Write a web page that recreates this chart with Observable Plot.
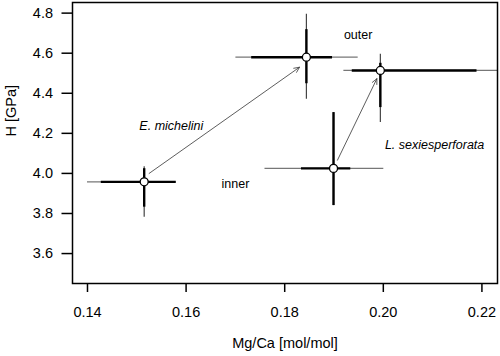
<!DOCTYPE html>
<html>
<head>
<meta charset="utf-8">
<script src="https://cdn.jsdelivr.net/npm/d3@7"></script>
<script src="https://cdn.jsdelivr.net/npm/@observablehq/plot@0.6"></script>
<style>
  html, body { margin: 0; padding: 0; background: #fff; }
  #chart svg { display: block; }
</style>
</head>
<body>
<div id="chart"></div>
<script>
// ---- data ----
const pointNames = ["E. michelini inner", "E. michelini outer", "L. sexiesperforata inner", "L. sexiesperforata outer"];
const mgca = [0.1515, 0.1844, 0.1899, 0.1994];          // Mg/Ca [mol/mol]
const hGPa = [3.958, 4.580, 4.025, 4.514];              // H [GPa]
// thick bars (inner spread)
const mgcaLo = [0.1427, 0.1732, 0.1833, 0.1936];
const mgcaHi = [0.1579, 0.1896, 0.1933, 0.2189];
const hLo    = [3.834, 4.450, 3.842, 4.331];
const hHi    = [4.026, 4.720, 4.306, 4.552];
// thin bars (full range)
const mgcaMin = [0.1399, 0.1700, 0.1759, 0.1919];
const mgcaMax = [0.1579, 0.1948, 0.2000, 0.2260];
const hMin    = [3.784, 4.373, 3.842, 4.257];
const hMax    = [4.036, 4.797, 4.306, 4.597];
// arrows inner -> outer
const arrowX1 = [0.1525, 0.1907];
const arrowY1 = [4.000, 4.066];
const arrowX2 = [0.1830, 0.1987];
const arrowY2 = [4.530, 4.473];
// annotations
const labelText   = ["outer", "E. michelini", "inner", "L. sexiesperforata"];
const labelX      = [0.1949, 0.1570, 0.1700, 0.2104];
const labelY      = [4.689, 4.236, 3.947, 4.141];
const labelItalic = [false, true, false, true];
// axes
const xTicks = [0.14, 0.16, 0.18, 0.20, 0.22];
const yTicks = [3.6, 3.8, 4.0, 4.2, 4.4, 4.6, 4.8];
const xTitle = "Mg/Ca [mol/mol]";
const yTitle = "H [GPa]";

const idx = d3.range(mgca.length);
const aidx = d3.range(arrowX1.length);
const lidx = d3.range(labelText.length);
const font = "Liberation Sans, Arial, Helvetica, sans-serif";

const chart = Plot.plot({
  width: 500,
  height: 356,
  marginLeft: 72,
  marginRight: 3,
  marginTop: 2,
  marginBottom: 73,
  style: { fontFamily: font, background: "#fff", color: "#000" },
  x: { domain: [0.13696, 0.22316] },
  y: { domain: [3.4506, 4.853] },
  marks: [
    // thin range bars
    Plot.link(idx, { x1: i => mgcaMin[i], x2: i => mgcaMax[i], y1: i => hGPa[i], y2: i => hGPa[i], stroke: "#777", strokeWidth: 1.2, clip: true }),
    Plot.link(idx, { x1: i => mgca[i], x2: i => mgca[i], y1: i => hMin[i], y2: i => hMax[i], stroke: "#444", strokeWidth: 1.2, clip: true }),
    // thick bars
    Plot.link(idx, { x1: i => mgcaLo[i], x2: i => mgcaHi[i], y1: i => hGPa[i], y2: i => hGPa[i], stroke: "#000", strokeWidth: 2.4, clip: true }),
    Plot.link(idx, { x1: i => mgca[i], x2: i => mgca[i], y1: i => hLo[i], y2: i => hHi[i], stroke: "#000", strokeWidth: 2.4, clip: true }),
    // arrows
    Plot.arrow(aidx, { x1: i => arrowX1[i], y1: i => arrowY1[i], x2: i => arrowX2[i], y2: i => arrowY2[i], stroke: "#333", strokeWidth: 0.8, headLength: 11, headAngle: 50 }),
    // points
    Plot.dot(idx, { x: i => mgca[i], y: i => hGPa[i], r: 4, fill: "#fff", stroke: "#000", strokeWidth: 1.3 }),
    // annotations
    Plot.text(lidx.filter(i => !labelItalic[i]), { x: i => labelX[i], y: i => labelY[i], text: i => labelText[i], fontSize: 12.5, fill: "#000" }),
    Plot.text(lidx.filter(i => labelItalic[i]), { x: i => labelX[i], y: i => labelY[i], text: i => labelText[i], fontSize: 12.5, fontStyle: "italic", fill: "#000" }),
    // frame
    Plot.frame({ stroke: "#000", strokeWidth: 1.5 }),
    // axes
    Plot.axisX({ ticks: xTicks, tickFormat: d3.format(".2f"), tickSize: 9, tickPadding: 14, fontSize: 14.5, strokeWidth: 1.5, label: null }),
    Plot.axisY({ ticks: yTicks, tickFormat: d3.format(".1f"), tickSize: 10.5, tickPadding: 9, fontSize: 14.5, strokeWidth: 1.5, label: null }),
    // axis titles
    Plot.text([xTitle], { frameAnchor: "bottom", text: d => d, dy: 64, fontSize: 14.5, fill: "#000" }),
    Plot.text([yTitle], { frameAnchor: "left", text: d => d, rotate: -90, dx: -61, dy: -6.5, fontSize: 14.5, fill: "#000" })
  ]
});
document.getElementById("chart").appendChild(chart);
</script>
</body>
</html>
